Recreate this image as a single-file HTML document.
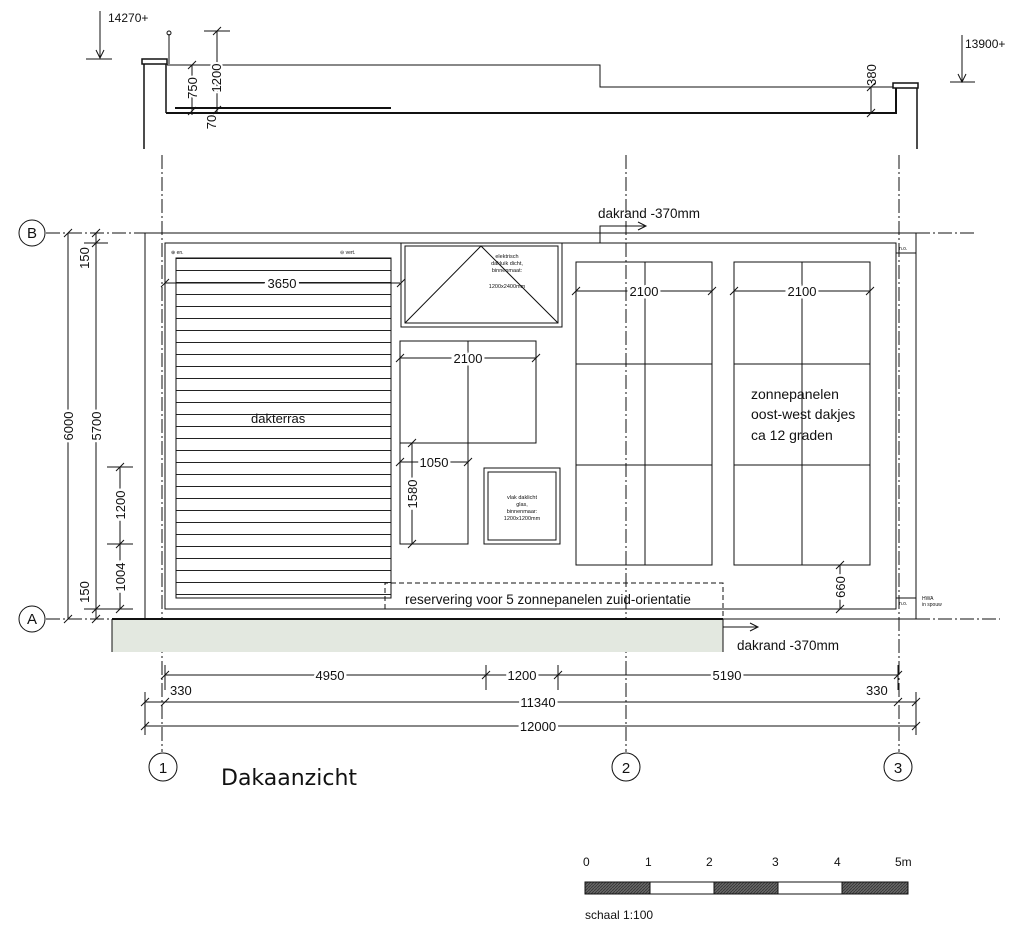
<!DOCTYPE html>
<html><head><meta charset="utf-8"><style>
html,body{margin:0;padding:0;background:#fff}
svg{display:block}
text{font-family:"Liberation Sans",sans-serif;fill:#111}
</style></head><body>
<svg width="1024" height="934" viewBox="0 0 1024 934" xmlns="http://www.w3.org/2000/svg">
<defs>
<pattern id="slat" x="0" y="258" width="10" height="12" patternUnits="userSpaceOnUse">
<line x1="0" y1="0.5" x2="10" y2="0.5" stroke="#222" stroke-width="1"/>
</pattern>
<pattern id="hatch" width="3" height="3" patternUnits="userSpaceOnUse">
<rect width="3" height="3" fill="#666"/><line x1="0" y1="3" x2="3" y2="0" stroke="#333" stroke-width="0.8"/>
</pattern>
</defs>
<g fill="none" stroke="#111" stroke-width="1">
<!-- section top -->
<rect x="142" y="59" width="25" height="5" stroke-width="1.5"/>
<line x1="144" y1="64" x2="144" y2="149" stroke-width="1.5"/>
<line x1="166" y1="64" x2="166" y2="113" stroke-width="1.5"/>
<line x1="169" y1="34" x2="169" y2="64"/>
<circle cx="169" cy="33" r="2"/>
<polyline points="167,65 600,65 600,87 893,87"/>
<polyline points="166,113 896,113 896,88" stroke-width="2"/>
<line x1="175" y1="108" x2="391" y2="108" stroke-width="2"/>
<rect x="893" y="83" width="25" height="5" stroke-width="1.5"/>
<line x1="917" y1="88" x2="917" y2="149" stroke-width="1.5"/>
<!-- level marks -->
<line x1="100" y1="11" x2="100" y2="58"/><polyline points="96,50 100,58 104,50"/><line x1="86" y1="59" x2="112" y2="59"/>
<line x1="962" y1="35" x2="962" y2="82"/><polyline points="958,74 962,82 966,74"/><line x1="950" y1="82" x2="975" y2="82"/>
<!-- section dims -->
<line x1="217" y1="31" x2="217" y2="112"/><line x1="204" y1="31" x2="230" y2="31"/>
<line x1="213" y1="35" x2="221" y2="27"/><line x1="213" y1="114" x2="221" y2="106"/>
<line x1="192" y1="65" x2="192" y2="115"/><line x1="188" y1="69" x2="196" y2="61"/><line x1="188" y1="115" x2="196" y2="107"/>
<line x1="871" y1="87" x2="871" y2="113"/><line x1="867" y1="91" x2="875" y2="83"/><line x1="867" y1="117" x2="875" y2="109"/>
</g>
<g font-size="12">
<text x="108" y="22">14270+</text>
<text x="965" y="48">13900+</text>
<text transform="translate(221,78) rotate(-90)" text-anchor="middle" font-size="13" style="paint-order:stroke" stroke="#fff" stroke-width="4">1200</text>
<text transform="translate(197,88) rotate(-90)" text-anchor="middle" font-size="13" style="paint-order:stroke" stroke="#fff" stroke-width="4">750</text>
<text transform="translate(216,122) rotate(-90)" text-anchor="middle" font-size="13">70</text>
<text transform="translate(876,75) rotate(-90)" text-anchor="middle" font-size="13">380</text>
</g>

<!-- grid lines -->
<g fill="none" stroke="#111" stroke-width="1" stroke-dasharray="14,3,2,3">
<line x1="162" y1="155" x2="162" y2="752"/>
<line x1="626" y1="155" x2="626" y2="752"/>
<line x1="899" y1="155" x2="899" y2="752"/>
<line x1="46" y1="233" x2="145" y2="233"/>
<line x1="916" y1="233" x2="976" y2="233"/>
<line x1="46" y1="619" x2="112" y2="619"/>
<line x1="916" y1="619" x2="1000" y2="619"/>
</g>
<g fill="#fff" stroke="#111" stroke-width="1">
<circle cx="32" cy="233" r="13"/><circle cx="32" cy="619" r="13"/>
<circle cx="163" cy="767" r="14"/><circle cx="626" cy="767" r="14"/><circle cx="898" cy="767" r="14"/>
</g>
<g font-size="15" text-anchor="middle">
<text x="32" y="238">B</text><text x="32" y="624">A</text>
<text x="163" y="773">1</text><text x="626" y="773">2</text><text x="898" y="773">3</text>
</g>

<!-- gray strip -->
<rect x="112" y="619" width="611" height="33" fill="#e3e8e0"/>
<g fill="none" stroke="#111">
<line x1="112" y1="619" x2="112" y2="652"/><line x1="723" y1="619" x2="723" y2="652"/>
<line x1="112" y1="619" x2="723" y2="619" stroke-width="2"/>

<!-- plan outline -->
<line x1="145" y1="233" x2="916" y2="233"/>
<line x1="145" y1="233" x2="145" y2="619"/>
<line x1="916" y1="233" x2="916" y2="619"/>
<line x1="723" y1="619" x2="916" y2="619"/>
<rect x="165" y="243" width="731" height="366"/>
<line x1="896" y1="253" x2="916" y2="253"/><line x1="896" y1="598" x2="916" y2="598"/>

<!-- terrace -->
<rect x="176" y="258" width="215" height="340" fill="url(#slat)"/>
<!-- hatch box -->
<rect x="401" y="243" width="161" height="84"/>
<rect x="405" y="246" width="153" height="77"/>
<polyline points="405,323 481,246 558,323"/>
<!-- 2100 block -->
<rect x="400" y="341" width="136" height="102"/>
<rect x="400" y="443" width="68" height="101"/>
<line x1="468" y1="341" x2="468" y2="544"/>
<!-- skylight -->
<rect x="484" y="468" width="76" height="76"/>
<rect x="488" y="472" width="68" height="68"/>
<!-- panel arrays -->
<rect x="576" y="262" width="136" height="303"/>
<line x1="576" y1="364" x2="712" y2="364"/><line x1="576" y1="465" x2="712" y2="465"/><line x1="645" y1="262" x2="645" y2="565"/>
<rect x="734" y="262" width="136" height="303"/>
<line x1="734" y1="364" x2="870" y2="364"/><line x1="734" y1="465" x2="870" y2="465"/><line x1="802" y1="262" x2="802" y2="565"/>
<!-- reservation -->
<polyline points="385,609 385,583 723,583 723,619" stroke-dasharray="5,3"/>
<!-- dakrand arrows -->
<polyline points="600,243 600,226 645,226"/><polyline points="638,222 646,226 638,230"/>
<polyline points="723,627 757,627"/><polyline points="750,623 758,627 750,631"/>

<!-- plan dims -->
<line x1="165" y1="283" x2="400" y2="283"/><line x1="161" y1="287" x2="169" y2="279"/><line x1="397" y1="287" x2="405" y2="279"/>
<line x1="400" y1="358" x2="536" y2="358"/><line x1="396" y1="362" x2="404" y2="354"/><line x1="532" y1="362" x2="540" y2="354"/>
<line x1="400" y1="462" x2="468" y2="462"/><line x1="396" y1="466" x2="404" y2="458"/><line x1="464" y1="466" x2="472" y2="458"/>
<line x1="412" y1="443" x2="412" y2="544"/><line x1="408" y1="447" x2="416" y2="439"/><line x1="408" y1="548" x2="416" y2="540"/>
<line x1="576" y1="291" x2="712" y2="291"/><line x1="572" y1="295" x2="580" y2="287"/><line x1="708" y1="295" x2="716" y2="287"/>
<line x1="734" y1="291" x2="870" y2="291"/><line x1="730" y1="295" x2="738" y2="287"/><line x1="866" y1="295" x2="874" y2="287"/>
<line x1="840" y1="565" x2="840" y2="609"/><line x1="836" y1="569" x2="844" y2="561"/><line x1="836" y1="613" x2="844" y2="605"/>

<!-- left dims -->
<line x1="68" y1="233" x2="68" y2="619"/><line x1="64" y1="237" x2="72" y2="229"/><line x1="64" y1="623" x2="72" y2="615"/>
<line x1="96" y1="233" x2="96" y2="619"/><line x1="92" y1="237" x2="100" y2="229"/><line x1="92" y1="247" x2="100" y2="239"/><line x1="92" y1="613" x2="100" y2="605"/><line x1="92" y1="623" x2="100" y2="615"/>
<line x1="84" y1="243" x2="108" y2="243"/><line x1="84" y1="609" x2="108" y2="609"/>
<line x1="120" y1="467" x2="120" y2="609"/><line x1="107" y1="467" x2="133" y2="467"/><line x1="107" y1="544" x2="133" y2="544"/>
<line x1="116" y1="471" x2="124" y2="463"/><line x1="116" y1="548" x2="124" y2="540"/><line x1="116" y1="613" x2="124" y2="605"/><line x1="107" y1="609" x2="133" y2="609"/>

<!-- bottom dims -->
<line x1="165" y1="675" x2="898" y2="675"/>
<line x1="165" y1="665" x2="165" y2="690"/><line x1="486" y1="665" x2="486" y2="690"/><line x1="558" y1="665" x2="558" y2="690"/><line x1="898" y1="665" x2="898" y2="690"/>
<line x1="161" y1="679" x2="169" y2="671"/><line x1="482" y1="679" x2="490" y2="671"/><line x1="554" y1="679" x2="562" y2="671"/><line x1="894" y1="679" x2="902" y2="671"/>
<line x1="145" y1="702" x2="916" y2="702"/>
<line x1="145" y1="692" x2="145" y2="735"/><line x1="916" y1="692" x2="916" y2="735"/>
<line x1="141" y1="706" x2="149" y2="698"/><line x1="161" y1="706" x2="169" y2="698"/><line x1="894" y1="706" x2="902" y2="698"/><line x1="912" y1="706" x2="920" y2="698"/>
<line x1="145" y1="726" x2="916" y2="726"/>
<line x1="141" y1="730" x2="149" y2="722"/><line x1="912" y1="730" x2="920" y2="722"/>
</g>

<!-- dim labels (white background) -->
<g font-size="13" text-anchor="middle" style="paint-order:stroke" stroke="#fff" stroke-width="5">
<text x="282" y="288" stroke-width="6">3650</text>
<text x="468" y="363">2100</text>
<text x="434" y="467">1050</text>
<text x="644" y="296">2100</text>
<text x="802" y="296">2100</text>
<text transform="translate(417,494) rotate(-90)">1580</text>
<text transform="translate(845,587) rotate(-90)">660</text>
<text transform="translate(73,426) rotate(-90)">6000</text>
<text transform="translate(101,426) rotate(-90)">5700</text>
<text transform="translate(89,258) rotate(-90)">150</text>
<text transform="translate(89,592) rotate(-90)">150</text>
<text transform="translate(125,505) rotate(-90)">1200</text>
<text transform="translate(125,577) rotate(-90)">1004</text>
<text x="330" y="680">4950</text>
<text x="522" y="680">1200</text>
<text x="727" y="680">5190</text>
<text x="538" y="707">11340</text>
<text x="538" y="731">12000</text>
</g>
<g font-size="13">
<text x="170" y="695">330</text>
<text x="866" y="695">330</text>
<text x="251" y="423">dakterras</text>
<text x="405" y="604" font-size="13.5">reservering voor 5 zonnepanelen zuid-orientatie</text>
<text x="598" y="218" font-size="13.5">dakrand -370mm</text>
<text x="737" y="650" font-size="13.5">dakrand -370mm</text>
<text x="751" y="399" font-size="14">zonnepanelen</text>
<text x="751" y="419" font-size="14">oost-west dakjes</text>
<text x="751" y="440" font-size="14">ca 12 graden</text>
</g>
<g font-size="5.5" text-anchor="middle">
<text x="507" y="258">elektrisch</text><text x="507" y="265">dakluik dicht,</text><text x="507" y="272">binnenmaat:</text><text x="507" y="288">1200x2400mm</text>
<text x="522" y="499">vlak daklicht</text><text x="522" y="506">glas,</text><text x="522" y="513">binnenmaar:</text><text x="522" y="520">1200x1200mm</text>
</g>
<g font-size="5">
<text x="171" y="254">⊕ en.</text><text x="340" y="254">⊖ vert.</text>
<text x="899" y="250">n.o.</text><text x="899" y="605">n.o.</text>
<text x="922" y="600">HWA</text><text x="922" y="606">in spouw</text>
</g>

<text x="221" y="785" font-size="22" style="font-family:'DejaVu Sans','Liberation Sans',sans-serif">Dakaanzicht</text>

<!-- scale bar -->
<g stroke="#111" stroke-width="1">
<rect x="585" y="882" width="65" height="12" fill="url(#hatch)"/>
<rect x="650" y="882" width="64" height="12" fill="#fff"/>
<rect x="714" y="882" width="64" height="12" fill="url(#hatch)"/>
<rect x="778" y="882" width="64" height="12" fill="#fff"/>
<rect x="842" y="882" width="66" height="12" fill="url(#hatch)"/>
</g>
<g font-size="12">
<text x="583" y="866">0</text><text x="645" y="866">1</text><text x="706" y="866">2</text><text x="772" y="866">3</text><text x="834" y="866">4</text><text x="895" y="866">5m</text>
<text x="585" y="919">schaal 1:100</text>
</g>
</svg>
</body></html>
